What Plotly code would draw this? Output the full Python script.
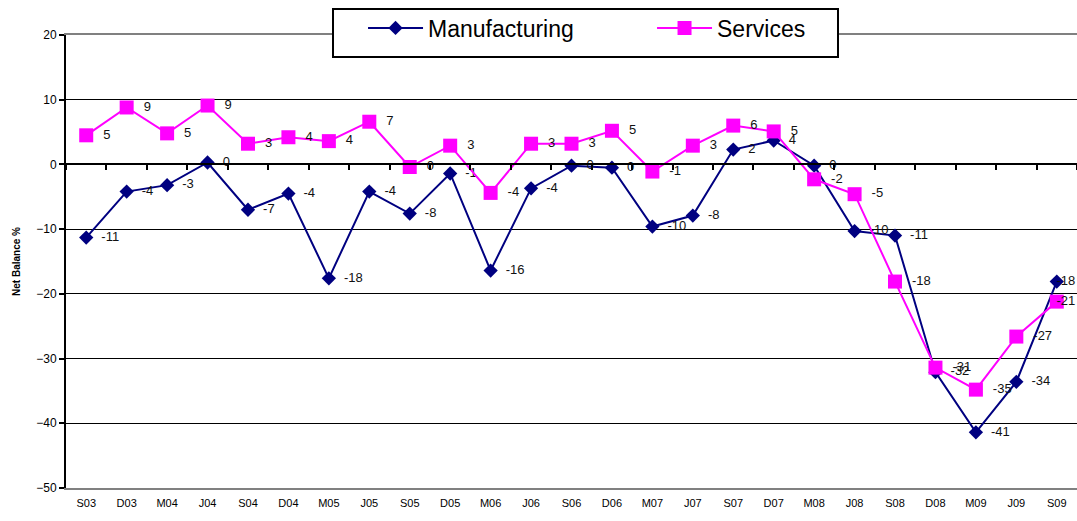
import math
import plotly.graph_objects as go

# Survey periods (quarter initial + two-digit year)
periods = ["S03", "D03", "M04", "J04", "S04", "D04", "M05", "J05", "S05", "D05",
           "M06", "J06", "S06", "D06", "M07", "J07", "S07", "D07", "M08", "J08",
           "S08", "D08", "M09", "J09", "S09"]

# Net balance (%) by sector
manufacturing = [-11.3, -4.2, -3.2, 0.3, -7.0, -4.5, -17.6, -4.2, -7.6, -1.4,
                 -16.4, -3.7, -0.2, -0.5, -9.6, -7.9, 2.3, 3.7, -0.2, -10.3,
                 -11.0, -32.1, -41.4, -33.6, -18.1]
services = [4.5, 8.8, 4.8, 9.1, 3.2, 4.2, 3.6, 6.6, -0.4, 2.9,
            -4.4, 3.2, 3.2, 5.2, -1.1, 2.9, 6.0, 5.1, -2.3, -4.6,
            -18.1, -31.4, -34.8, -26.6, -21.2]

y_ticks = [20, 10, 0, -10, -20, -30, -40, -50]

NAVY = "#000080"
MAGENTA = "#FF00FF"
FONT = "Liberation Sans, Arial, sans-serif"


def labels(values):
    # whole-number labels, halves rounded upward; the last one is pulled
    # back over its marker so it stays inside the chart's right edge
    out = [str(int(math.floor(v + 0.5))) for v in values]
    text = ["  " + s for s in out[:-1]] + ["     " + out[-1]]
    pos = ["middle right"] * (len(values) - 1) + ["middle center"]
    return text, pos


fig = go.Figure()

for name, values, color, symbol, size in [
    ("Manufacturing", manufacturing, NAVY, "diamond", 11),
    ("Services", services, MAGENTA, "square", 14),
]:
    text, pos = labels(values)
    fig.add_trace(go.Scatter(
        x=periods, y=values, name=name,
        mode="lines+markers+text",
        line=dict(color=color, width=2),
        marker=dict(symbol=symbol, size=size, color=color),
        text=text, textposition=pos,
        textfont=dict(family=FONT, size=13, color="#111111"),
        cliponaxis=False,
    ))

# Hidden trace that carries the category axis drawn along the zero line
fig.add_trace(go.Scatter(
    x=periods, y=[None] * len(periods), xaxis="x2",
    mode="lines", showlegend=False, hoverinfo="skip",
))

# Legend frame
fig.add_shape(
    type="rect", xref="paper", yref="paper",
    x0=0.2641, x1=0.7636, y0=0.9514, y1=1.0574,
    fillcolor="white", line=dict(color="black", width=2), layer="above",
)

fig.update_layout(
    width=1077, height=521,
    margin=dict(l=66, r=0, t=35, b=33),
    paper_bgcolor="white", plot_bgcolor="white",
    font=dict(family=FONT, color="black"),
    showlegend=True,
    legend=dict(
        orientation="h", x=0.2938, y=1.0155, xanchor="left", yanchor="middle",
        xref="paper", yref="paper",
        bgcolor="rgba(0,0,0,0)", borderwidth=0,
        font=dict(family=FONT, size=23, color="black"),
        itemwidth=55, entrywidth=219, entrywidthmode="pixels",
        itemsizing="trace",
    ),
    xaxis=dict(
        type="category", categoryorder="array", categoryarray=periods,
        range=[-0.5, len(periods) - 0.5],
        showgrid=False, zeroline=False,
        showline=True, linecolor="#808080", linewidth=2, mirror=True,
        ticks="", ticklabelstandoff=4,
        tickfont=dict(family=FONT, size=11, color="black"),
    ),
    xaxis2=dict(
        type="category", categoryorder="array", categoryarray=periods,
        range=[-0.5, len(periods) - 0.5],
        overlaying="x", anchor="free", position=50 / 70,
        showgrid=False, zeroline=False, showticklabels=False,
        showline=True, linecolor="black", linewidth=1.5,
        ticks="outside", tickson="boundaries", ticklen=5,
        tickcolor="black", tickwidth=1.5,
    ),
    yaxis=dict(
        range=[-50, 20], tickvals=y_ticks,
        showgrid=True, gridcolor="black", gridwidth=1,
        zeroline=False,
        showline=True, linecolor="black", linewidth=2,
        ticks="outside", ticklen=5, tickcolor="black", tickwidth=1.5,
        tickfont=dict(family=FONT, size=12, color="black"),
        title=dict(text="<b>Net Balance %</b>", standoff=14,
                   font=dict(family=FONT, size=10, color="black")),
    ),
)

fig.write_html("out.html")
